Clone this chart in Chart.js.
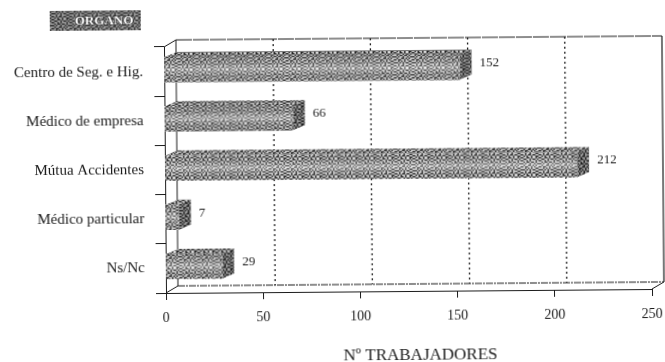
<!DOCTYPE html>
<html>
<head>
<meta charset="utf-8">
<script src="https://cdn.jsdelivr.net/npm/chart.js@4"></script>
<style>
  html, body { margin: 0; background: #fff; overflow: hidden; }
  /* the scanned original sits slightly tilted */
  #chart { display: block; transform: translateX(1px) rotate(-0.47deg); transform-origin: 165px 293px; }
</style>
</head>
<body>
<canvas id="chart" width="665" height="362"></canvas>
<script>
const categories = ['Centro de Seg. e Hig.', 'Médico de empresa', 'Mútua Accidentes', 'Médico particular', 'Ns/Nc'];
const workers = [152, 66, 212, 7, 29];
const legendLabel = 'ORGANO';
const axisTitle = 'Nº TRABAJADORES';

const serif = '"Liberation Serif", serif';
const ink = '#1c1c1c';
const wallX = 12, wallY = 7;   // depth of the box
const barX = 12, barY = 5;     // depth of a bar
const barLift = 2;

// worm-like stipple of the print
const tile = [
  '#..##.#..#.#',
  '.##..#.##.#.',
  '#..#.#...#.#',
  '.#.##.##.#..',
  '#.#..#..#.##',
  '.#..##.#.#..',
  '#.##..#.#..#',
  '..#.#.#..##.',
  '##.#.#.##..#',
  '..#..#...##.',
  '#.#.##.##..#',
  '.#.#..#..##.'
];

function makePattern(ctx, dark, light) {
  const c = document.createElement('canvas');
  c.width = c.height = tile.length;
  const t = c.getContext('2d');
  tile.forEach((row, y) => {
    [...row].forEach((cell, x) => {
      t.fillStyle = cell === '#' ? dark : light;
      t.fillRect(x, y, 1, 1);
    });
  });
  const p = ctx.createPattern(c, 'repeat');
  p.setTransform(new DOMMatrix().scale(1.5));
  return p;
}

const canvas = document.getElementById('chart');
const ctx = canvas.getContext('2d');
ctx.letterSpacing = '0.6px';
const frontFill = makePattern(ctx, '#2a2a2a', '#f0f0f0');
const sideFill = makePattern(ctx, '#111', '#aaa');
const topFill = makePattern(ctx, '#1a1a1a', '#d8d8d8');
const legendFill = makePattern(ctx, '#222', '#aaa');

function poly(c, pts, fill) {
  c.beginPath();
  pts.forEach((p, i) => i ? c.lineTo(p[0], p[1]) : c.moveTo(p[0], p[1]));
  c.closePath();
  c.fillStyle = fill;
  c.fill();
}

function line(c, x1, y1, x2, y2, dash, width) {
  c.beginPath();
  c.setLineDash(dash || []);
  c.lineWidth = width || 1;
  c.strokeStyle = ink;
  c.moveTo(x1, y1);
  c.lineTo(x2, y2);
  c.stroke();
  c.setLineDash([]);
}

const box3d = {
  id: 'box3d',
  beforeDatasetsDraw(chart) {
    const c = chart.ctx, a = chart.chartArea, sx = chart.scales.x;
    c.save();
    // back wall and floor
    line(c, a.left + wallX, a.top - wallY, a.right + wallX, a.top - wallY, [16, 1], 1);
    line(c, a.left + wallX, a.top - wallY, a.left + wallX, a.bottom - wallY, null, 1);
    line(c, a.right + wallX, a.top - wallY, a.right + wallX, a.bottom - wallY, null, 1.2);
    line(c, a.left + wallX, a.bottom - wallY, a.right + wallX, a.bottom - wallY, [7, 1, 2, 1], 1);
    line(c, a.left, a.top, a.left + wallX, a.top - wallY, null, 1);
    line(c, a.left, a.bottom, a.left + wallX, a.bottom - wallY, null, 1);
    line(c, a.right, a.bottom, a.right + wallX, a.bottom - wallY, null, 1);
    sx.ticks.forEach(t => {
      if (t.value === sx.min || t.value === sx.max) return;
      const x = sx.getPixelForValue(t.value) + wallX;
      line(c, x, a.top - wallY, x, a.bottom - wallY, [2, 3], 1.3);
    });
    // top and side of each bar
    chart.getDatasetMeta(0).data.forEach(bar => {
      const top = bar.y - bar.height / 2 - barLift, bottom = bar.y + bar.height / 2 - barLift;
      poly(c, [[bar.base, top], [bar.x, top], [bar.x + barX, top - barY], [bar.base + barX, top - barY]], topFill);
      poly(c, [[bar.x, top], [bar.x + barX, top - barY], [bar.x + barX, bottom - barY], [bar.x, bottom]], sideFill);
    });
    c.restore();
    c.save();
    c.translate(0, -barLift);
  },
  afterDatasetsDraw(chart) {
    const c = chart.ctx;
    c.restore();
    c.save();
    chart.getDatasetMeta(0).data.forEach((bar, i) => {
      // paler middle of the front face
      const top = bar.y - bar.height / 2 - barLift;
      const g = c.createLinearGradient(0, top, 0, top + bar.height);
      g.addColorStop(0, 'rgba(0,0,0,0.08)');
      g.addColorStop(0.5, 'rgba(235,235,235,0.35)');
      g.addColorStop(1, 'rgba(0,0,0,0.08)');
      c.fillStyle = g;
      c.fillRect(bar.base, top, bar.x - bar.base, bar.height);
      // value label
      c.fillStyle = ink;
      c.font = '13px ' + serif;
      c.textAlign = 'left';
      c.textBaseline = 'middle';
      c.fillText(workers[i], bar.x + barX + 8, bar.y - barLift - barY + 1);
    });
    // legend swatch
    c.fillStyle = legendFill;
    c.fillRect(51, 10, 91, 20);
    c.font = 'bold 13px ' + serif;
    c.textAlign = 'left';
    c.textBaseline = 'middle';
    c.lineWidth = 1;
    c.strokeStyle = '#222';
    c.strokeText(legendLabel, 76, 21);
    c.fillStyle = '#fff';
    c.fillText(legendLabel, 76, 21);
    // axis title
    c.fillStyle = ink;
    c.font = '17px ' + serif;
    c.textAlign = 'center';
    c.fillText(axisTitle, 419, 358);
    c.restore();
  }
};

new Chart(canvas, {
  type: 'bar',
  data: {
    labels: categories,
    datasets: [{
      label: legendLabel,
      data: workers,
      backgroundColor: frontFill,
      barThickness: 25
    }]
  },
  options: {
    indexAxis: 'y',
    responsive: false,
    animation: false,
    layout: { padding: { left: 0, right: 14, top: 47, bottom: 0 } },
    plugins: { legend: { display: false }, title: { display: false }, tooltip: { enabled: false } },
    scales: {
      x: {
        min: 0,
        max: 250,
        ticks: { stepSize: 50, color: ink, padding: 10, maxRotation: 0, font: { family: serif, size: 14 } },
        grid: { drawOnChartArea: false, tickLength: 7, tickColor: ink },
        border: { color: ink },
        afterFit(scale) { scale.height = 69; scale.paddingLeft = 0; scale.paddingRight = 0; }
      },
      y: {
        ticks: { color: ink, padding: 11, font: { family: serif, size: 15 } },
        grid: { drawOnChartArea: false, tickLength: 10, tickColor: ink },
        border: { color: ink },
        afterFit(scale) { scale.width = 165; }
      }
    }
  },
  plugins: [box3d]
});
</script>
</body>
</html>
